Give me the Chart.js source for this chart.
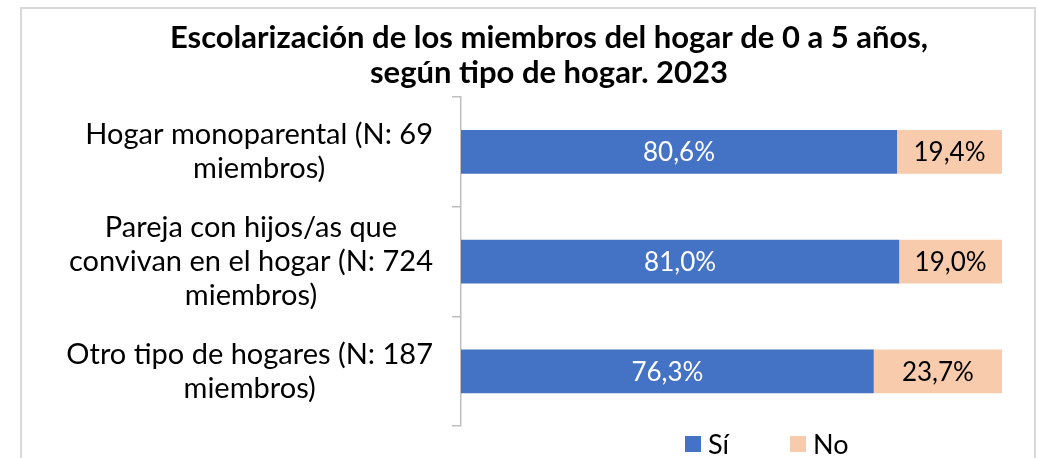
<!DOCTYPE html>
<html>
<head>
<meta charset="utf-8">
<script src="https://cdn.jsdelivr.net/npm/chart.js@4/dist/chart.umd.min.js"></script>
<style>
    html, body { margin: 0; padding: 0; background: #fff; }
    #frame {
        position: absolute; left: 20px; top: 7px; width: 1016px; height: 480px;
        border: 2px solid #d9d9d9; box-sizing: border-box;
    }
    #wrap { position: absolute; left: 0; top: 0; width: 1038px; height: 458px; }
</style>
</head>
<body>
<div id="frame"></div>
<div id="wrap"><canvas id="hogarChart"></canvas></div>
<script>
const categories = [
    ['Hogar monoparental (N: 69', 'miembros)'],
    ['Pareja con hijos/as que', 'convivan en el hogar (N: 724', 'miembros)'],
    ['Otro tipo de hogares (N: 187', 'miembros)']
];
const siValues = [80.6, 81.0, 76.3];
const noValues = [19.4, 19.0, 23.7];
const seriesNames = ['Sí', 'No'];
const titleLines = ['Escolarización de los miembros del hogar de 0 a 5 años,', 'según tipo de hogar. 2023'];

const FONT = 'Lato, "Open Sans", sans-serif';

// draws value labels, wrapped y labels and the legend
const textPlugin = {
    id: 'textPlugin',
    afterDatasetsDraw: function (chart) {
        const ctx = chart.ctx;
        ctx.save();
        ctx.font = '26px ' + FONT;
        ctx.textAlign = 'center';
        ctx.textBaseline = 'middle';
        chart.data.datasets.forEach(function (ds, i) {
            const meta = chart.getDatasetMeta(i);
            ctx.fillStyle = i === 0 ? '#ffffff' : '#000000';
            meta.data.forEach(function (bar, j) {
                const p = bar.getProps(['x', 'y', 'base'], true);
                const txt = ds.data[j].toFixed(1).replace('.', ',') + '%';
                ctx.fillText(txt, (p.x + p.base) / 2, p.y + 1);
            });
        });
        ctx.restore();
    },
    afterDraw: function (chart) {
        const ctx = chart.ctx;
        const yScale = chart.scales.y;
        const lineH = 34;
        ctx.save();
        ctx.font = '29px ' + FONT;
        ctx.fillStyle = '#000000';
        ctx.textAlign = 'center';
        ctx.textBaseline = 'middle';
        const right = yScale.right - 28;
        chart.data.labels.forEach(function (lines, i) {
            const yc = yScale.getPixelForTick(i);
            let w = 0;
            lines.forEach(function (l) { w = Math.max(w, ctx.measureText(l).width); });
            const xc = right - w / 2;
            const top = yc - (lines.length - 1) * lineH / 2;
            lines.forEach(function (l, k) {
                ctx.fillText(l, xc, top + k * lineH);
            });
        });

        // legend
        ctx.font = '27px ' + FONT;
        const box = 16, gap = 7, itemGap = 61;
        let x = chart.chartArea.left + 224;
        const ly = 444;
        ctx.textAlign = 'left';
        chart.data.datasets.forEach(function (ds) {
            ctx.fillStyle = ds.backgroundColor;
            ctx.fillRect(x, ly - box / 2, box, box);
            ctx.fillStyle = '#000000';
            ctx.fillText(ds.label, x + box + gap, ly + 1);
            x += box + gap + ctx.measureText(ds.label).width + itemGap;
        });
        ctx.restore();
    }
};

new Chart(document.getElementById('hogarChart'), {
    type: 'bar',
    data: {
        labels: categories,
        datasets: [{
            label: seriesNames[0],
            data: siValues,
            backgroundColor: '#4472C4',
            borderWidth: 0
        }, {
            label: seriesNames[1],
            data: noValues,
            backgroundColor: '#F8CBAD',
            borderWidth: 0
        }]
    },
    options: {
        indexAxis: 'y',
        responsive: true,
        maintainAspectRatio: false,
        animation: false,
        datasets: {
            bar: {
                categoryPercentage: 1,
                barPercentage: 0.4
            }
        },
        layout: {
            padding: { left: 96, right: 36, top: 0, bottom: 20 }
        },
        plugins: {
            legend: { display: false },
            tooltip: { enabled: false },
            title: {
                display: true,
                text: titleLines,
                color: '#000000',
                font: { family: FONT, size: 31, weight: 'bold', lineHeight: 1.13 },
                padding: { top: 20, bottom: 7 }
            }
        },
        scales: {
            x: {
                stacked: true,
                display: false,
                min: 0,
                max: 100
            },
            y: {
                stacked: true,
                afterFit: function (scale) { scale.width = 365; },
                grid: {
                    display: true,
                    drawOnChartArea: false,
                    drawTicks: true,
                    tickLength: 9,
                    color: '#bfbfbf',
                    lineWidth: 1.5
                },
                border: { display: true, color: '#bfbfbf', width: 1.5 },
                ticks: {
                    color: 'rgba(0,0,0,0)',
                    font: { family: FONT, size: 24 }
                }
            }
        }
    },
    plugins: [textPlugin]
});
</script>
</body>
</html>
